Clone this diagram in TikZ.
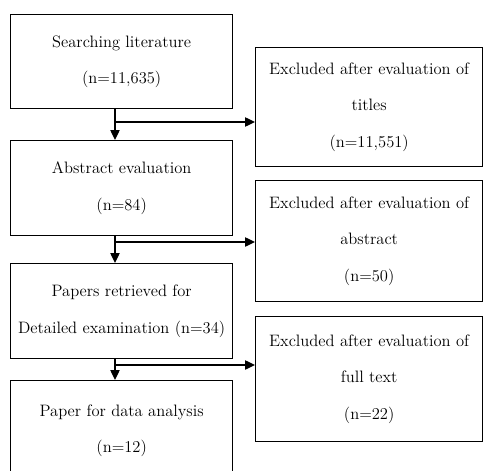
\documentclass[tikz,border=0pt]{standalone}
\usetikzlibrary{arrows.meta}

\begin{document}
\begin{tikzpicture}[x=0.75pt, y=-0.75pt,
    box/.style={draw, line width=1pt, anchor=north west, align=center,
        inner sep=0pt, font=\fontsize{12.4}{27.5}\selectfont},
    flow/.style={line width=1pt, -{Triangle[length=7.5pt, width=7pt]}}]
    \useasboundingbox (0,0) rectangle (486,471);
    \clip (0,0) rectangle (486,471);

    % Colonna sinistra
    \node[box, minimum width=166.5pt, minimum height=70.5pt] (search) at (10,14)
        {Searching literature\\(n=11,635)};
    \node[box, minimum width=166.5pt, minimum height=71.25pt] (abstr) at (10,140)
        {Abstract evaluation\\(n=84)};
    \node[box, minimum width=166.5pt, minimum height=71.25pt] (detail) at (10,263)
        {Papers retrieved for\\Detailed examination (n=34)};
    \node[box, minimum width=166.5pt, minimum height=75pt] (final) at (10,380)
        {Paper for data analysis\\(n=12)};

    % Colonna destra
    \node[box, minimum width=170.25pt, minimum height=89.25pt] (extitle) at (255,47)
        {Excluded after evaluation of\\titles\\(n=11,551)};
    \node[box, minimum width=170.25pt, minimum height=90.75pt] (exabstr) at (255,180)
        {Excluded after evaluation of\\abstract\\(n=50)};
    \node[box, minimum width=170.25pt, minimum height=93.75pt] (exfull) at (255,316)
        {Excluded after evaluation of\\full text\\(n=22)};

    % Frecce
    \coordinate (j1) at (115,122);
    \coordinate (j2) at (115,242);
    \coordinate (j3) at (115,365);
    \draw[flow] (search.south -| j1) -- (abstr.north -| j1);
    \draw[flow] (j1) -- (j1 -| extitle.west);
    \draw[flow] (abstr.south -| j2) -- (detail.north -| j2);
    \draw[flow] (j2) -- (j2 -| exabstr.west);
    \draw[flow] (detail.south -| j3) -- (final.north -| j3);
    \draw[flow] (j3) -- (j3 -| exfull.west);
\end{tikzpicture}
\end{document}
